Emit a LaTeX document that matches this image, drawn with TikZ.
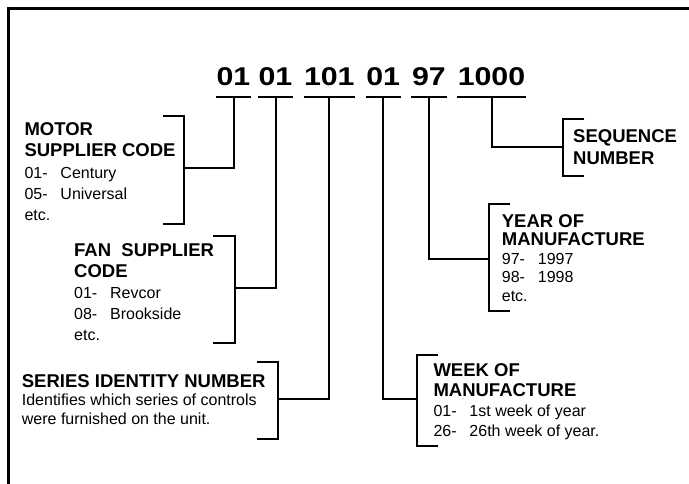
\documentclass[tikz,border=0pt]{standalone}
\usepackage{fontspec}
\setmainfont{Liberation Sans}
\newfontfamily\digitfont[FakeStretch=1.18]{Liberation Sans}
\usetikzlibrary{positioning,calc}

\tikzset{
  frame/.style={line width=2.5pt},
  bar/.style={line width=2pt},
  digits/.style={font=\digitfont\fontsize{25.7}{26}\selectfont\bfseries,
    anchor=south, inner xsep=0pt, inner ysep=0pt, text depth=11.6pt},
  % base anchor sits on the last line
  info/.style={anchor=base west, inner sep=0pt, align=left,
    font=\fontsize{16}{#1}\selectfont},
}
\newcommand{\fieldhead}[1]{{\fontsize{18.5}{10}\selectfont\bfseries #1}}
\newcommand{\codeline}[2]{\makebox[36pt][l]{#1}#2}

\begin{document}
\begin{tikzpicture}[x=1pt, y=-1pt]
  \useasboundingbox (0,0) rectangle (689,483);
  % Frame
  \draw[frame] (8.5,490) -- (8.5,8.5) -- (695,8.5);

  % Code groups
  \node[digits, minimum width=33pt] (motor) at (233.5,97.3) {01};
  \node[digits, minimum width=35pt] (fan) at (275.5,97.3) {01};
  \node[digits, minimum width=46pt] (series) at (329.3,97.3) {101};
  \node[digits, minimum width=35pt] (week) at (383.2,97.3) {01};
  \node[digits, minimum width=35pt] (year) at (429,97.3) {97};
  \node[digits, minimum width=69pt] (sequence) at (491.5,97.3) {1000};
  \foreach \g in {motor,fan,series,week,year,sequence}
    \draw[bar] (\g.south west) -- (\g.south east);

  % Stems and brackets
  \foreach \g/\bx/\by/\bt/\bb/\arm in {motor/184/168.3/115.7/224/-21.3,
      fan/235/288.3/236/342.7/-21.7, series/278.3/399/362.3/439.3/-21,
      week/416.7/399/355/445.7/21.6, year/489/259/204/311/21,
      sequence/562.7/146.7/119.3/176/21.3} {
    \coordinate (\g-join) at (\bx,\by);
    \draw[bar] (\g.south) |- (\g-join);
    \draw[bar] (\bx+\arm,\bt) -- (\bx,\bt) -- (\bx,\bb) -- (\bx+\arm,\bb);
  }

  % Descriptions
  \node[info=21.2] (motor-txt) at (24.3,220.5)
    {\fieldhead{MOTOR}\\ \fieldhead{SUPPLIER CODE}\\
     \codeline{01-}{Century}\\ \codeline{05-}{Universal}\\ etc.};
  \node[info=21] (fan-txt) at (74,340.7)
    {\fieldhead{FAN\ \ SUPPLIER}\\ \fieldhead{CODE}\\
     \codeline{01-}{Revcor}\\ \codeline{08-}{Brookside}\\ etc.};
  \node[info=18.2] (series-txt) at (21.7,424.1)
    {\fieldhead{SERIES IDENTITY NUMBER}\\ Identifies which series of controls\\
     were furnished on the unit.};
  \node[info=18.5] (year-txt) at (501.7,301.3)
    {\fieldhead{YEAR OF}\\ \fieldhead{MANUFACTURE}\\
     \codeline{97-}{1997}\\ \codeline{98-}{1998}\\ etc.};
  \node[info=20] (week-txt) at (433.3,436.7)
    {\fieldhead{WEEK OF}\\ \fieldhead{MANUFACTURE}\\
     \codeline{01-}{1st week of year}\\ \codeline{26-}{26th week of year.}};
  \node[info=21.7] (sequence-txt) at (573,164)
    {\fieldhead{SEQUENCE}\\ \fieldhead{NUMBER}};
\end{tikzpicture}
\end{document}
